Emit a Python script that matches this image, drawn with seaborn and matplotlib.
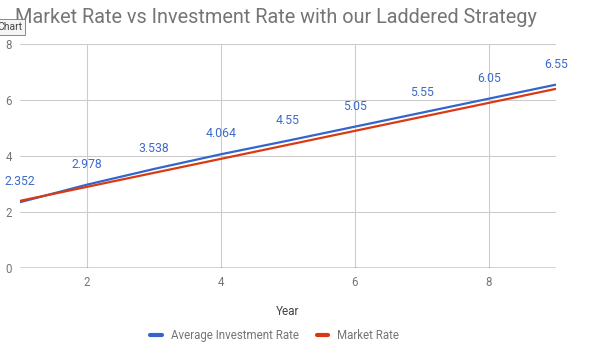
import seaborn as sns
import matplotlib.pyplot as plt
import pandas as pd
from matplotlib.lines import Line2D

years = [1, 2, 3, 4, 5, 6, 7, 8, 9]
avg_invest = [2.352, 2.978, 3.538, 4.064, 4.55, 5.05, 5.55, 6.05, 6.55]
market = [2.4, 2.9, 3.4, 3.9, 4.4, 4.9, 5.4, 5.9, 6.4]
labels = ["2.352", "2.978", "3.538", "4.064", "4.55", "5.05", "5.55", "6.05", "6.55"]

sns.set_theme(style="white")
plt.rcParams['font.family'] = ['Roboto', 'DejaVu Sans']

df = pd.DataFrame({
    "Year": years * 2,
    "Rate": avg_invest + market,
    "Series": ["Average Investment Rate"] * len(years) + ["Market Rate"] * len(years),
})

fig = plt.figure(figsize=(5.95, 3.53), dpi=100)
ax = fig.add_axes([0.034, 0.241, 0.9, 0.634])
sns.lineplot(data=df, x="Year", y="Rate", hue="Series",
             palette=["#3366cc", "#dc3912"], linewidth=1.6, ax=ax, legend=False)

for x, y, t in zip(years, avg_invest, labels):
    ax.annotate(t, (x, y), xytext=(0, 10), textcoords="offset points",
                ha="center", va="bottom", fontsize=8.8, color="#3d6bc8")

ax.set_xlim(1, 9)
ax.set_ylim(0, 8)
ax.set_xticks([2, 4, 6, 8])
ax.set_yticks([0, 2, 4, 6, 8])
ax.grid(True, color="#cccccc", linewidth=0.8)
ax.axhline(0, color="#333333", linewidth=1.0)
for s in ax.spines.values():
    s.set_visible(False)
ax.tick_params(axis="both", length=0, labelsize=8.3, labelcolor="#757575")
ax.tick_params(axis="y", pad=6)
ax.tick_params(axis="x", pad=6)
ax.set_xlabel("Year", fontsize=8.5, color="#444444", labelpad=11)
ax.set_ylabel("")

fig.text(0.025, 0.95, "Market Rate vs Investment Rate with our Laddered Strategy",
         fontsize=14.3, color="#757575", ha="left", va="center")
fig.text(-0.005, 0.923, "Chart", fontsize=7.5, color="#444444", ha="left", va="center",
         bbox=dict(boxstyle="square,pad=0.3", fc="#f5f5f5", ec="#777777", lw=0.6))

handles = [Line2D([], [], color="#3366cc", lw=3), Line2D([], [], color="#dc3912", lw=3)]
fig.legend(handles, ["Average Investment Rate", "Market Rate"], loc="center",
           bbox_to_anchor=(0.462, 0.05), ncol=2, frameon=False, fontsize=8.3,
           handlelength=1.0, columnspacing=1.5, handletextpad=0.8, labelcolor="#757575")

fig.savefig("out.png", dpi=100)
